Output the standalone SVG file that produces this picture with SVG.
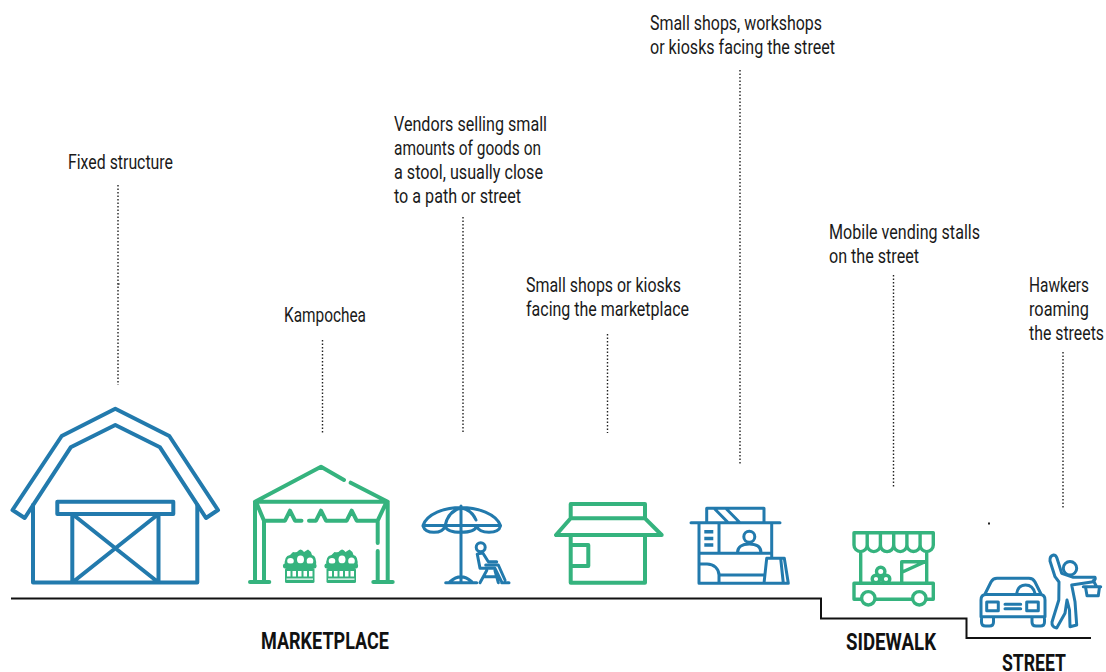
<svg xmlns="http://www.w3.org/2000/svg" width="1106" height="672" viewBox="0 0 1106 672">
<style>
.b{fill:none;stroke:#227aad;stroke-width:4;stroke-linejoin:round;stroke-linecap:round}
.b3{fill:none;stroke:#227aad;stroke-width:3;stroke-linejoin:round;stroke-linecap:round}
.g{fill:none;stroke:#35b37e;stroke-width:4;stroke-linejoin:round;stroke-linecap:round}
.g3{fill:none;stroke:#35b37e;stroke-width:3.400;stroke-linejoin:round;stroke-linecap:round}
.d{fill:none;stroke:#222;stroke-width:1.400;stroke-dasharray:1.400 2.100}
.t{font-family:"Roboto","Liberation Sans",sans-serif;font-size:20.500px;fill:#1a1a1a}
.h{font-family:"Roboto","Liberation Sans",sans-serif;font-size:24px;font-weight:700;fill:#111}
.gf{fill:#35b37e}
.w{fill:#fff}
</style>
<defs>
<g id="crate">
<path class="gf" d="M285 566Q283.500 556 290 555L293 552Q297 553 298 551Q301 547.500 304 552L308 549.500Q311 551 312 555Q317 556 316 566Z"/>
<ellipse class="w" cx="290.500" cy="561" rx="3.300" ry="3"/>
<ellipse class="w" cx="300.500" cy="559.500" rx="3.500" ry="4"/>
<ellipse class="w" cx="310" cy="561" rx="3.300" ry="3.500"/>
<rect class="gf" x="283" y="563.500" width="33.500" height="5" rx="2"/>
<rect class="gf" x="285" y="568" width="29.500" height="15" rx="1.500"/>
<path class="w" d="M287 571h3.500v5.500h-3.500zM292.500 571h3.500v5.500h-3.500zM298 571h3.500v5.500h-3.500zM303.500 571h3.500v5.500h-3.500zM309 571h3.500v5.500h-3.500zM286.500 578.500h26.500v1.200h-26.500z"/>
</g>
</defs>
<g id="connectors">
<path class="d" d="M118 185V385M322.500 340V433M463 217V433M607.500 334V433M740 70V465M893.500 275V487M1063 352V508"/>
<path d="M11 598.500H821V618.500H966.500V638H1091" fill="none" stroke="#111" stroke-width="2"/>
<rect x="988" y="522.500" width="2" height="2" fill="#222"/>
<rect x="117.500" y="283" width="2" height="2" fill="#555"/>
</g>
<g id="fixed-structure">
<path class="b" d="M12.500 510L61.700 436 115.300 408.700 169.300 436 218 510 206 518 160 447.300 115.300 425 70.700 447.300 24.700 518Z"/>
<path class="b" d="M33 505V582.500H197.300V505M57.300 501.700H173.300V514H57.300ZM72.300 514V582.500M158.500 514V582.500M72.300 514L158.500 582.500M158.500 514L72.300 582.500"/>
<text class="t" x="68" y="169" textLength="105" lengthAdjust="spacingAndGlyphs">Fixed structure</text>
</g>
<g id="kampochea">
<path class="g" d="M255 501.700L321 466.700 344 480M350.700 482.700L387.700 501.700M255 501.700H387.700M255 501.700V582M264 520.700V582M250 582H269.300M387.700 501.700V582M377.700 520.700V543M377.700 551V582M373.300 582H392.700M256.500 503L264 520.700M386 503L377.700 520.700M264 520.700H285L290 510.700 295 520.700H301.500M309 520.700H316L321 510.700 326 520.700H346.700L351.700 510.700 356.700 520.700H377.700"/>
<use href="#crate"/>
<use href="#crate" x="41.500"/>
<text class="t" x="284" y="322" textLength="82" lengthAdjust="spacingAndGlyphs">Kampochea</text>
</g>
<g id="vendors-stool">
<path class="b3" d="M423 525.500C427 514 444 507.500 461 507.500S496 514 500.500 525.500ZM423 526Q425 532.300 434 532.300T445 526M445 526Q447 532.300 461 532.300T476.700 526M476.700 526Q479 532.300 489 532.300T500.500 526M445 526C447 516 452 510 461 507.700M476 520C473 513 468 509 461 507.700M461 506V582M445.700 582.700H476.700M450 581.700Q461 572 471.700 581.700"/>
<circle class="b3" cx="480.700" cy="547.300" r="4.500"/>
<path class="b3" d="M477.300 554.300L480 568.300H495L502 582.700M477.300 554.300Q479 553 483 553.300L488.300 561.700H496.700M485.700 565H498.300L505 580M501.700 582.700H509M480 582.700L486.700 570.500M495 570.500L498.300 582.700M483.300 576.700H496.700"/>
<text class="t" x="394" y="131" textLength="153" lengthAdjust="spacingAndGlyphs">Vendors selling small</text>
<text class="t" x="394" y="155" textLength="147" lengthAdjust="spacingAndGlyphs">amounts of goods on</text>
<text class="t" x="394" y="179" textLength="149" lengthAdjust="spacingAndGlyphs">a stool, usually close</text>
<text class="t" x="394" y="203" textLength="127" lengthAdjust="spacingAndGlyphs">to a path or street</text>
</g>
<g id="shop-marketplace">
<path class="g" d="M570.700 504H645V518.300H570.700ZM570.700 518.300L556 535H661.700L645 518.300M570.700 535V582.700H645V535M570.700 545H588.300V566H570.700"/>
<text class="t" x="526" y="292" textLength="155" lengthAdjust="spacingAndGlyphs">Small shops or kiosks</text>
<text class="t" x="526" y="316" textLength="163" lengthAdjust="spacingAndGlyphs">facing the marketplace</text>
</g>
<g id="kiosk">
<path class="b3" d="M706.700 522V508.300H764V522M691 522.700H780M715 509.300L728.300 522.700M726.700 509.300L740 522.700M699 522.700V583.300H788.300L784.300 558.300H766.700L764 583.300M771.700 522.700V558M719 522.700V553.300M699 553.300H771.700M780.700 558.500L783.300 583M699 564H707C714 564 719 569 719 575V583M719 575H764M737.500 552.500C737.500 547 742 544 749.300 544S761 547 761 552.500"/>
<circle class="b3" cx="749.300" cy="536.700" r="5.500"/>
<path d="M704.300 530h9v3.500h-9zM704.300 536.700h9v3.500h-9zM704.300 543.300h9v3.500h-9z" fill="#227aad"/>
<text class="t" x="650" y="30" textLength="172" lengthAdjust="spacingAndGlyphs">Small shops, workshops</text>
<text class="t" x="650" y="54" textLength="185" lengthAdjust="spacingAndGlyphs">or kiosks facing the street</text>
</g>
<g id="mobile-stall">
<path class="g3" d="M854 532.700H933.300V545A6.600 6.600 0 0 1 920.100 545A6.600 6.600 0 0 1 906.900 545A6.600 6.600 0 0 1 893.700 545A6.600 6.600 0 0 1 880.400 545A6.600 6.600 0 0 1 867.200 545A6.600 6.600 0 0 1 854 545ZM867.200 532.700V545M880.400 532.700V545M893.700 532.700V545M906.900 532.700V545M920.100 532.700V545M860.700 552V583.300M926.700 552V583.300M901.700 583.300V561.700H926.700M903 571.700L925 561.700"/>
<path class="g3" d="M861 599.300H854V583.300H933.300V599.300H926M875.300 599.300H912"/>
<circle class="g3" cx="868.300" cy="598.300" r="6.700"/>
<circle class="g3" cx="919.300" cy="598.300" r="6.700"/>
<circle class="g3" cx="880.700" cy="571.500" r="4.200"/>
<circle class="g3" cx="876" cy="579" r="3.800"/>
<circle class="g3" cx="886" cy="579" r="3.800"/>
<text class="t" x="829" y="239" textLength="151" lengthAdjust="spacingAndGlyphs">Mobile vending stalls</text>
<text class="t" x="829" y="263" textLength="90" lengthAdjust="spacingAndGlyphs">on the street</text>
</g>
<g id="hawkers">
<path class="b3" d="M985 594L991 582Q993 578.300 997 578.300H1029Q1033 578.300 1035 582L1041 594M981 600Q981 594.500 986 594.500H1040Q1045 594.500 1045 600V616.700H981ZM981.500 616.700V622Q981.500 626 985.500 626H989.500Q993.500 626 993.500 622V616.700M1032 616.700V622Q1032 626 1036 626H1040.500Q1044.500 626 1044.500 622V616.700M1016.700 593.500Q1018 585 1025.500 585T1035 593.500M1005 604.300H1020.700M1005 608.800H1020.700"/>
<rect class="b3" x="986.700" y="602" width="11.600" height="8.700"/>
<rect class="b3" x="1026.700" y="602" width="11.600" height="8.700"/>
<circle class="b3" cx="1070" cy="568.300" r="6.700"/>
<path class="b3" d="M1053.500 555Q1049.500 556 1050 561L1055 576.700 1059 582 1058.800 600 1052 622Q1051.500 627 1056.700 628L1065 613.300 1067 600 1069.500 610 1070 626.700 1076.700 625 1075 601.700 1071.700 585 1093.300 581.700Q1096 579 1095 577.300L1073.300 577.300 1061.700 573.300 1057 558.300Q1056 555 1053.500 555Z"/>
<path class="b3" d="M1083.300 586.700H1100.700M1085.500 587L1087 595.700H1098.300L1099.500 587M1093.300 580.500L1096.500 586.500"/>
<text class="t" x="1029" y="292" textLength="60" lengthAdjust="spacingAndGlyphs">Hawkers</text>
<text class="t" x="1029" y="316" textLength="60" lengthAdjust="spacingAndGlyphs">roaming</text>
<text class="t" x="1029" y="340" textLength="75" lengthAdjust="spacingAndGlyphs">the streets</text>
</g>
<g id="labels">
<text class="h" x="261" y="649" textLength="128" lengthAdjust="spacingAndGlyphs">MARKETPLACE</text>
<text class="h" x="846" y="650" textLength="90" lengthAdjust="spacingAndGlyphs">SIDEWALK</text>
<text class="h" x="1002" y="671" textLength="64" lengthAdjust="spacingAndGlyphs">STREET</text>
</g>
</svg>
